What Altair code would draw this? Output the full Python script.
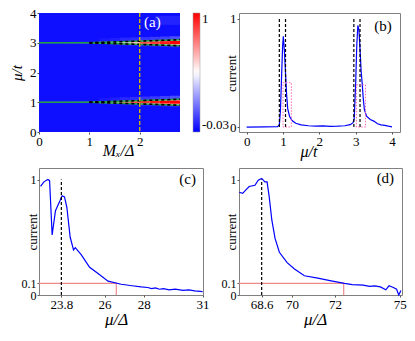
import altair as alt
import pandas as pd

FONT = "Liberation Serif"

# ---------------- panel (a): heat map of current vs M_x and mu ----------------
mx_edges = [0.0, 0.2, 0.4, 0.6, 0.8, 1.0, 1.2, 1.4, 1.6, 1.8, 2.0, 2.2, 2.4, 2.6, 2.8]
band_centres = [1.0, 3.0]
band_half = [0.03, 0.03, 0.03, 0.03, 0.03, 0.02, 0.03, 0.04, 0.05, 0.06, 0.07, 0.08, 0.09, 0.10]
core_mu1 = [0.10, 0.10, 0.10, 0.12, 0.15, 0.35, 0.45, 0.60, 0.75, 0.85, 0.90, 0.95, 1.00, 1.00]
core_mu3 = [0.10, 0.10, 0.10, 0.12, 0.15, 0.35, 0.42, 0.50, 0.55, 0.62, 0.85, 0.90, 0.95, 1.00]
edge_val = [0.05, 0.05, 0.05, 0.06, 0.08, 0.30, 0.40, 0.45, 0.50, 0.50, 0.55, 0.55, 0.55, 0.55]
haze_above_val = [0, 0, 0, 0, 0, 0, 0.02, 0.03, 0.05, 0.06, 0.08, 0.09, 0.10, 0.12]
haze_below_val = [0, 0, 0, 0, 0, 0, 0.01, 0.02, 0.03, 0.04, 0.05, 0.05, 0.06, 0.06]
haze_above = 0.12
haze_below = 0.05
streak_mx = [2.3, 2.8]
streak_mu = [3.6, 3.9]
streak_val = 0.04
background_val = 0.0
mx_domain = [0.0, 2.8]
mu_domain_a = [0.0, 4.0]
wedge_start = 1.0
wedge_end = 2.8
wedge_spread = 0.10
centre_dash_end = 1.4
cut_mx = 2.0
cbar_domain = [-0.03, 0.485, 1.0]
cbar_colors = ["#0000ff", "#ffffff", "#ff0000"]

# ---------------- panel (b): current vs mu/t ----------------
b_mu = [0.0, 0.5, 0.85, 0.90, 0.93, 0.96, 0.99, 1.01, 1.04, 1.07, 1.10, 1.13, 1.18, 1.25,
        1.35, 1.50, 1.70, 1.90, 2.10, 2.30, 2.50, 2.70, 2.85, 2.93, 2.96, 3.00, 3.03, 3.06,
        3.09, 3.12, 3.15, 3.18, 3.21, 3.24, 3.30, 3.40, 3.50, 3.60, 3.70, 3.80, 3.90, 4.0]
b_cur = [0.0, 0.002, 0.003, 0.02, 0.15, 0.45, 0.75, 0.84, 0.70, 0.50, 0.30, 0.17, 0.10, 0.06,
         0.035, 0.02, 0.012, 0.008, 0.010, 0.006, 0.008, 0.012, 0.022, 0.04, 0.08, 0.40, 0.75, 0.94,
         0.90, 0.72, 0.52, 0.40, 0.26, 0.16, 0.10, 0.07, 0.055, 0.03, 0.02, 0.015, 0.008, 0.002]
b_dash = [0.90, 1.07, 2.95, 3.12]
b_box_x0 = [1.00, 3.02]
b_box_x1 = [1.23, 3.27]
b_box_top = [0.41, 0.39]
b_x_domain = [-0.21, 4.22]
b_y_domain = [-0.046, 1.055]

# ---------------- panel (c) ----------------
c_mu = [22.74, 22.91, 23.11, 23.20, 23.33, 23.50, 23.74, 23.84, 23.96, 24.08, 24.25, 24.42,
        24.51, 24.81, 25.24, 25.67, 26.18, 26.85, 27.40, 27.87, 28.20, 28.40, 28.60, 28.80,
        29.00, 29.30, 29.60, 30.00, 30.30, 30.60, 31.00]
c_cur = [0.94, 0.98, 1.00, 0.99, 0.52, 0.73, 0.82, 0.86, 0.85, 0.76, 0.50, 0.39,
         0.41, 0.35, 0.24, 0.186, 0.12, 0.093, 0.08, 0.07, 0.065, 0.055, 0.062, 0.05,
         0.055, 0.045, 0.05, 0.04, 0.045, 0.035, 0.03]
c_mark = 23.8
c_cut = 26.6
c_x_domain = [22.66, 31.02]

# ---------------- panel (d) ----------------
d_mu = [67.56, 67.72, 67.87, 68.02, 68.29, 68.44, 68.60, 68.75, 68.85, 68.95, 69.07, 69.22,
        69.42, 69.78, 70.12, 70.58, 71.20, 71.82, 72.44, 72.80, 73.07, 73.30, 73.60, 73.84,
        74.10, 74.35, 74.50, 74.70, 74.85, 74.95, 75.05]
d_cur = [0.89, 0.88, 0.91, 0.94, 0.95, 0.995, 1.01, 0.98, 0.98, 0.85, 0.65, 0.49,
         0.37, 0.28, 0.225, 0.167, 0.146, 0.123, 0.10, 0.09, 0.088, 0.085, 0.075, 0.079,
         0.07, 0.045, 0.08, 0.065, 0.05, 0.0, 0.04]
d_mark = 68.6
d_cut = 72.4
d_x_domain = [67.55, 75.1]

cd_y_domain = [0.0, 1.1]
level = 0.1
mark_top = 1.0

BLUE = "#0000ff"
RED_L = "#f08a8a"
PINK = "#ff69b4"
GREEN = "#22a040"
YELLOW = "#d4c000"
NUMFMT = ".1~f"

AX_COMMON = dict(labelFont=FONT, titleFont=FONT, titleFontWeight="normal",
                 labelColor="black", titleColor="black", grid=False, domain=False,
                 tickColor="#555", tickSize=2, labelPadding=1, labelFlush=False,
                 labelOverlap=False, format=NUMFMT, titleBaseline="middle", titleAlign="center")


def axis_x(values, title, tx, ty, fs=16, italic=True):
    kw = dict(AX_COMMON, values=values, title=title, titleX=tx, titleY=ty, titleFontSize=fs,
              labelFontSize=13)
    if italic:
        kw["titleFontStyle"] = "italic"
    return alt.Axis(**kw)


def axis_y(values, title, tx, ty, fs=13, italic=False, lfs=13):
    kw = dict(AX_COMMON, values=values, title=title, titleX=tx, titleY=ty, titleAngle=270,
              titleFontSize=fs, labelFontSize=lfs)
    if italic:
        kw["titleFontStyle"] = "italic"
    return alt.Axis(**kw)


# ---- panel (a) ----
heat_rows = [dict(x=mx_domain[0], x2=mx_domain[1], y=mu_domain_a[0], y2=mu_domain_a[1], v=background_val),
             dict(x=streak_mx[0], x2=streak_mx[1], y=streak_mu[0], y2=streak_mu[1], v=streak_val)]
for mu0, core in zip(band_centres, [core_mu1, core_mu3]):
    for i in range(len(band_half)):
        x0, x1, hw = mx_edges[i], mx_edges[i + 1], band_half[i]
        if haze_above_val[i] > 0:
            heat_rows.append(dict(x=x0, x2=x1, y=mu0 + hw, y2=mu0 + hw + haze_above, v=haze_above_val[i]))
            heat_rows.append(dict(x=x0, x2=x1, y=mu0 - hw - haze_below, y2=mu0 - hw, v=haze_below_val[i]))
        heat_rows.append(dict(x=x0, x2=x1, y=mu0 - hw, y2=mu0 + hw, v=edge_val[i]))
        heat_rows.append(dict(x=x0, x2=x1, y=mu0 - hw * 0.5, y2=mu0 + hw * 0.6, v=core[i]))
heat_df = pd.DataFrame(heat_rows)

green_rows, black_rows = [], []
for mu0 in band_centres:
    green_rows += [dict(seg=f"f{mu0}", x=mx_domain[0], y=mu0), dict(seg=f"f{mu0}", x=wedge_start, y=mu0)]
    for sgn, nm in [(1, "u"), (-1, "d")]:
        pts = [dict(seg=f"{nm}{mu0}", x=wedge_start, y=mu0),
               dict(seg=f"{nm}{mu0}", x=wedge_end, y=mu0 + sgn * wedge_spread)]
        green_rows += pts
        black_rows += pts
    black_rows += [dict(seg=f"c{mu0}", x=wedge_start, y=mu0), dict(seg=f"c{mu0}", x=centre_dash_end, y=mu0)]

xa = alt.X("x:Q", scale=alt.Scale(domain=mx_domain, nice=False, zero=False),
           axis=axis_x([0, 1, 2], "Mₓ/Δ", 79, 18, fs=16))
ya = alt.Y("y:Q", scale=alt.Scale(domain=mu_domain_a, nice=False, zero=False),
           axis=axis_y([0, 1, 2, 3, 4], "μ/t", -23, 59.5, fs=15, italic=True))

heat = alt.Chart(heat_df).mark_rect().encode(
    x=xa, x2="x2:Q", y=ya, y2="y2:Q",
    color=alt.Color("v:Q",
                    scale=alt.Scale(domain=cbar_domain, range=cbar_colors, interpolate="rgb", clamp=True),
                    legend=alt.Legend(title=None, orient="right", offset=9, gradientLength=119,
                                      gradientThickness=7, values=[-0.03, 1.0],
                                      labelExpr="datum.value >= 1 ? '1' : '-0.03'",
                                      labelFont=FONT, labelFontSize=13,
                                      labelColor="black", labelOffset=2, padding=0,
                                      gradientStrokeColor="#999", gradientStrokeWidth=0.5,
                                      direction="vertical")))
green = alt.Chart(pd.DataFrame(green_rows)).mark_line(color=GREEN, strokeWidth=1.6).encode(
    x=xa, y=ya, detail="seg:N")
blackd = alt.Chart(pd.DataFrame(black_rows)).mark_line(color="black", strokeWidth=1.6, strokeDash=[3, 3]).encode(
    x=xa, y=ya, detail="seg:N")
yellow = alt.Chart(pd.DataFrame([dict(x=cut_mx)])).mark_rule(color=YELLOW, strokeWidth=1.3, strokeDash=[4, 2]).encode(x=xa)
lab_a = alt.Chart(pd.DataFrame([dict(x=2.25, y=3.7, t="(a)")])).mark_text(
    font=FONT, fontSize=15, color="white").encode(x=xa, y=ya, text="t:N")
pa = alt.layer(heat, green, blackd, yellow, lab_a).properties(
    width=141, height=119, view=alt.ViewBackground(stroke="transparent"))

# ---- panel (b) ----
xb = alt.X("x:Q", scale=alt.Scale(domain=b_x_domain, nice=False, zero=False),
           axis=axis_x([0, 1, 2, 3, 4], "μ/t", 69.5, 19, fs=16))
yb = alt.Y("y:Q", scale=alt.Scale(domain=b_y_domain, nice=False, zero=False),
           axis=axis_y([0, 1], "current", -8, 60))
line_b = alt.Chart(pd.DataFrame(dict(x=b_mu, y=b_cur))).mark_line(color=BLUE, strokeWidth=1.2).encode(x=xb, y=yb)
dash_b = alt.Chart(pd.DataFrame(dict(x=b_dash, y=[0.0] * 4, y2=[mark_top] * 4))).mark_rule(
    color="black", strokeWidth=1.2, strokeDash=[3, 2]).encode(x=xb, y=yb, y2="y2:Q")
box_b = alt.Chart(pd.DataFrame(dict(x=b_box_x0, x2=b_box_x1, y=[0.0, 0.0], y2=b_box_top))).mark_rect(
    fillOpacity=0, stroke=PINK, strokeWidth=1, strokeDash=[1.5, 1.5]).encode(x=xb, x2="x2:Q", y=yb, y2="y2:Q")
lab_b = alt.Chart(pd.DataFrame([dict(x=3.75, y=0.936, t="(b)")])).mark_text(
    font=FONT, fontSize=15, color="black").encode(x=xb, y=yb, text="t:N")
pb = alt.layer(line_b, dash_b, box_b, lab_b).properties(width=161, height=119)


# ---- panels (c), (d) ----
def lower_panel(mu, cur, mark, cut, xdom, ticks, tag, tagx, tagy, width, tx_y, tx_x):
    xe = alt.X("x:Q", scale=alt.Scale(domain=xdom, nice=False, zero=False),
               axis=axis_x(ticks, "μ/Δ", tx_x, 24.5, fs=17))
    ye = alt.Y("y:Q", scale=alt.Scale(domain=cd_y_domain, nice=False, zero=False),
               axis=axis_y([0, 0.1, 1], "current", tx_y, 63.5, lfs=12))
    ln = alt.Chart(pd.DataFrame(dict(x=mu, y=cur))).mark_line(color=BLUE, strokeWidth=1.2).encode(x=xe, y=ye)
    rl = alt.Chart(pd.DataFrame(dict(i=[0, 1, 2], x=[xdom[0], cut, cut], y=[level, level, 0.0]))).mark_line(
        color=RED_L, strokeWidth=1.2).encode(x=xe, y=ye, order="i:Q")
    dl = alt.Chart(pd.DataFrame(dict(x=[mark], y=[0.0], y2=[mark_top]))).mark_rule(
        color="black", strokeWidth=1.2, strokeDash=[3, 2]).encode(x=xe, y=ye, y2="y2:Q")
    tg = alt.Chart(pd.DataFrame([dict(x=tagx, y=tagy, t=tag)])).mark_text(
        font=FONT, fontSize=15, color="black").encode(x=xe, y=ye, text="t:N")
    return alt.layer(rl, ln, dl, tg).properties(width=width, height=127)


pc = lower_panel(c_mu, c_cur, c_mark, c_cut, c_x_domain, [23.8, 26, 28, 31], "(c)", 30.24, 1.006, 164, -6.5, 77)
pdd = lower_panel(d_mu, d_cur, d_mark, d_cut, d_x_domain, [68.6, 70, 72, 75], "(d)", 74.33, 1.01, 163, -8, 76)

chart = alt.concat(pa, pb, pc, pdd, columns=2, spacing={"row": 36, "column": 36}, bounds="flush").resolve_scale(
    color="independent").resolve_legend(color="independent").properties(
    padding={"left": 0, "top": -2, "right": 0, "bottom": 0}
).configure_view(stroke="#808080", strokeWidth=1)

chart.save("out.html", embed_options={"renderer": "svg", "actions": False})
